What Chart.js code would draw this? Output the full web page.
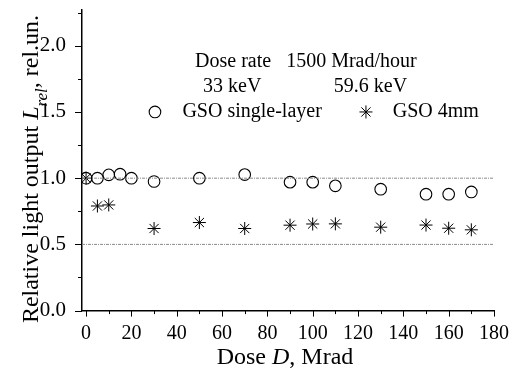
<!DOCTYPE html>
<html>
<head>
<meta charset="utf-8">
<script src="https://cdn.jsdelivr.net/npm/chart.js@4/dist/chart.umd.min.js"></script>
<style>
  html, body { margin: 0; padding: 0; background: #fff; }
  #wrap { width: 517px; height: 376px; }
</style>
</head>
<body>
<div id="wrap"><canvas id="c" width="517" height="376"></canvas></div>
<script>
// ---- data ----
const doseSingle = [0, 5, 10, 15, 20, 30, 50, 70, 90, 100, 110, 130, 150, 160, 170];
const lightSingle = [1.0, 1.0, 1.025, 1.03, 1.0, 0.975, 1.0, 1.027, 0.97, 0.97, 0.942, 0.917, 0.879, 0.879, 0.896];
const doseGso4 = [0, 5, 10, 30, 50, 70, 90, 100, 110, 130, 150, 160, 170];
const lightGso4 = [1.0, 0.79, 0.798, 0.62, 0.665, 0.62, 0.645, 0.654, 0.655, 0.63, 0.646, 0.622, 0.61];
const refLevels = [1.0, 0.5];
const xRange = [-1.8, 180];
const yRange = [0, 2.27];
const xTickValues = [0,10,20,30,40,50,60,70,80,90,100,110,120,130,140,150,160,170,180];
const xTickLabels = ['0','','20','','40','','60','','80','','100','','120','','140','','160','','180'];
const yTickValues = [0,0.25,0.5,0.75,1.0,1.25,1.5,1.75,2.0,2.25];
const yTickLabels = ['0.0','','0.5','','1.0','','1.5','','2.0',''];
const seriesNames = ['GSO single-layer', 'GSO 4mm'];
const noteLine1 = 'Dose rate   1500 Mrad/hour';
const noteEnergies = ['33 keV', '59.6 keV'];

const FONT = '"Liberation Serif", "Times New Roman", serif';

const toPts = (xs, ys) => xs.map((x, i) => ({x: x, y: ys[i]}));

const datasets = [];
refLevels.forEach(v => {
  datasets.push({
    data: [{x: xRange[0], y: v}, {x: xRange[1], y: v}],
    showLine: true, pointRadius: 0, borderColor: '#8a8a8a', borderWidth: 1,
    borderDash: [3, 1, 1, 1], fill: false
  });
});
datasets.push({
  label: seriesNames[0], data: toPts(doseSingle, lightSingle),
  pointStyle: 'circle', pointRadius: 5.8, borderColor: '#000', backgroundColor: 'rgba(0,0,0,0)',
  pointBorderWidth: 1.1, showLine: false
});
datasets.push({
  label: seriesNames[1], data: toPts(doseGso4, lightGso4),
  pointStyle: 'star', pointRadius: 6.5, borderColor: '#000', backgroundColor: '#000',
  pointBorderWidth: 1, showLine: false
});

const extras = {
  id: 'extras',
  afterDraw(chart) {
    const ctx = chart.ctx;
    const xs = chart.scales.x, ys = chart.scales.y;
    const area = chart.chartArea;
    ctx.save();
    ctx.strokeStyle = '#000';
    ctx.lineWidth = 1;
    // x ticks
    xTickValues.forEach((v, i) => {
      const px = Math.round(xs.getPixelForValue(v)) + 0.5;
      const len = xTickLabels[i] ? 6 : 3.5;
      ctx.beginPath(); ctx.moveTo(px, area.bottom); ctx.lineTo(px, area.bottom + len); ctx.stroke();
    });
    // y ticks
    yTickValues.forEach((v, i) => {
      const py = Math.round(ys.getPixelForValue(v)) + 0.5;
      const len = yTickLabels[i] ? 7 : 4;
      ctx.beginPath(); ctx.moveTo(area.left, py); ctx.lineTo(area.left - len, py); ctx.stroke();
    });

    // annotation text
    ctx.fillStyle = '#000';
    ctx.font = '20px ' + FONT;
    ctx.textBaseline = 'middle';
    ctx.textAlign = 'center';
    ctx.fillText(noteLine1, xs.getPixelForValue(97), ys.getPixelForValue(1.88));
    ctx.fillText(noteEnergies[0], xs.getPixelForValue(64.5), ys.getPixelForValue(1.69));
    ctx.fillText(noteEnergies[1], xs.getPixelForValue(125.5), ys.getPixelForValue(1.69));
    ctx.textAlign = 'left';
    const ly = ys.getPixelForValue(1.5);
    ctx.fillText(seriesNames[0], xs.getPixelForValue(42.5), ly);
    ctx.fillText(seriesNames[1], xs.getPixelForValue(135.3), ly);
    ctx.save();
    ctx.fillStyle = 'rgba(0,0,0,0)';
    ctx.lineWidth = 1.1;
    Chart.helpers.drawPoint(ctx, {pointStyle: 'circle', radius: 5.8, borderWidth: 1.1}, xs.getPixelForValue(30.4), ly);
    ctx.lineWidth = 1;
    Chart.helpers.drawPoint(ctx, {pointStyle: 'star', radius: 6.5, borderWidth: 1}, xs.getPixelForValue(123.5), ly);
    ctx.restore();

    // x title
    ctx.textBaseline = 'alphabetic';
    const tSize = 24;
    const xParts = [['Dose ', ''], ['D', 'italic '], [', Mrad', '']];
    let total = 0;
    xParts.forEach(p => { ctx.font = p[1] + tSize + 'px ' + FONT; total += ctx.measureText(p[0]).width; });
    let cx = (area.left + area.right) / 2 - 3 - total / 2;
    const by = 364;
    ctx.textAlign = 'left';
    xParts.forEach(p => { ctx.font = p[1] + tSize + 'px ' + FONT; ctx.fillText(p[0], cx, by); cx += ctx.measureText(p[0]).width; });

    // y title (rotated)
    const yParts = [['Relative light output ', '', tSize, 0], ['L', 'italic ', tSize, 0], ['rel', 'italic ', 17, 9], [', rel.un.', '', tSize, 0]];
    total = 0;
    yParts.forEach(p => { ctx.font = p[1] + p[2] + 'px ' + FONT; total += ctx.measureText(p[0]).width; });
    ctx.translate(38, 169);
    ctx.rotate(-Math.PI / 2);
    let tx = -total / 2;
    yParts.forEach(p => { ctx.font = p[1] + p[2] + 'px ' + FONT; ctx.fillText(p[0], tx, p[3]); tx += ctx.measureText(p[0]).width; });
    ctx.restore();
  }
};

new Chart(document.getElementById('c'), {
  type: 'scatter',
  data: { datasets: datasets },
  options: {
    responsive: false,
    animation: false,
    events: [],
    layout: { padding: { left: 0, right: 23, top: 10, bottom: 0 } },
    plugins: { legend: { display: false }, tooltip: { enabled: false } },
    scales: {
      x: {
        type: 'linear', min: xRange[0], max: xRange[1],
        afterBuildTicks: s => { s.ticks = xTickValues.map(v => ({value: v})); },
        afterFit: s => { s.height = 65.4; s.paddingLeft = 0; s.paddingRight = 0; },
        grid: { display: false },
        border: { display: true, color: '#000', width: 1.5 },
        ticks: {
          autoSkip: false, maxRotation: 0, padding: 3, color: '#000',
          font: { family: FONT, size: 20 },
          callback: (v, i) => xTickLabels[i]
        }
      },
      y: {
        type: 'linear', min: yRange[0], max: yRange[1],
        afterBuildTicks: s => { s.ticks = yTickValues.map(v => ({value: v})); },
        afterFit: s => { s.width = 82; s.paddingTop = 0; s.paddingBottom = 0; },
        grid: { display: false },
        border: { display: true, color: '#000', width: 1.5 },
        ticks: {
          autoSkip: false, padding: 8, color: '#000',
          font: { family: FONT, size: 21 },
          callback: (v, i) => yTickLabels[i]
        }
      }
    }
  },
  plugins: [extras, {
    id: 'bg',
    beforeDraw(chart) { const c = chart.ctx; c.save(); c.fillStyle = '#fff'; c.fillRect(0, 0, chart.width, chart.height); c.restore(); }
  }]
});
</script>
</body>
</html>
